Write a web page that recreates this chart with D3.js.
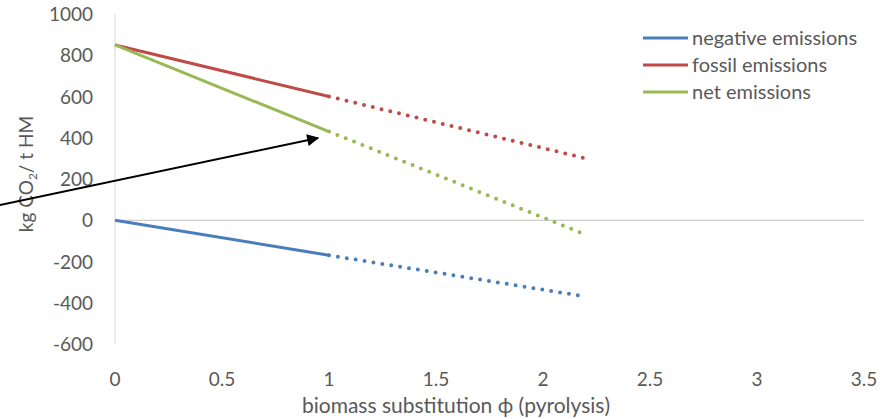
<!DOCTYPE html>
<html>
<head>
<meta charset="utf-8">
<script src="https://cdn.jsdelivr.net/npm/d3@7"></script>
<style>
  html, body { margin: 0; padding: 0; background: #fff; }
  svg { display: block; }
  .tick-lbl { font-family: Lato, "Open Sans", sans-serif; fill: #595959; }
  .legend-lbl { font-family: Lato, "Open Sans", sans-serif; fill: #595959; font-size: 20px; }
</style>
</head>
<body>
<svg id="chart" width="894" height="419"></svg>
<script>
// values (x = biomass substitution, y = kg CO2 / t HM)
var phiSolid  = [0, 1];
var phiDotted = [1, 2.2];
var negative  = [0, -170, -370];   // at phi = 0, 1, 2.2
var fossil    = [850, 600, 300];
var net       = [850, 430, -70];
var phiPoints = [0, 1, 2.2];

var seriesNames = ["negative emissions", "fossil emissions", "net emissions"];
var seriesColors = ["#4a7ebb", "#be4b48", "#98b954"];
var seriesValues = [negative, fossil, net];

var xTicks = [0, 0.5, 1, 1.5, 2, 2.5, 3, 3.5];
var yTicks = [1000, 800, 600, 400, 200, 0, -200, -400, -600];

var svg = d3.select("#chart");
var x = d3.scaleLinear().domain([0, 3.5]).range([115, 864]);
var y = d3.scaleLinear().domain([-600, 1000]).range([344, 14]);

// axis lines
svg.append("line").attr("x1", x(0)).attr("x2", x(0)).attr("y1", y(1000)).attr("y2", y(-600))
  .attr("stroke", "#d9d9d9").attr("stroke-width", 1);
svg.append("line").attr("x1", x(0)).attr("x2", x(3.5)).attr("y1", y(0)).attr("y2", y(0))
  .attr("stroke", "#bfbfbf").attr("stroke-width", 1);

// tick labels
svg.append("g").selectAll("text").data(yTicks).join("text")
  .attr("class", "tick-lbl").attr("font-size", 19)
  .attr("x", 93).attr("y", function (d) { return y(d) + 7; })
  .attr("text-anchor", "end").text(function (d) { return d; });

svg.append("g").selectAll("text").data(xTicks).join("text")
  .attr("class", "tick-lbl").attr("font-size", 19)
  .attr("x", function (d) { return x(d); }).attr("y", 386)
  .attr("text-anchor", "middle").text(function (d) { return d; });

// axis titles
svg.append("text").attr("class", "tick-lbl").attr("font-size", 21)
  .attr("x", 456).attr("y", 413).attr("text-anchor", "middle")
  .text("biomass substitution \u03D5 (pyrolysis)");

var yt = svg.append("text").attr("class", "tick-lbl").attr("font-size", 19)
  .attr("text-anchor", "middle")
  .attr("transform", "translate(33,174) rotate(-90)");
yt.append("tspan").text("kg CO");
yt.append("tspan").attr("font-size", 12).attr("dy", 4).text("2");
yt.append("tspan").attr("dy", -4).text("/ t HM");

// series
var line = d3.line().x(function (d) { return x(d[0]); }).y(function (d) { return y(d[1]); });
var gLines = svg.append("g");
seriesValues.forEach(function (vals, i) {
  var pts = phiPoints.map(function (p, j) { return [p, vals[j]]; });
  var solid = pts.filter(function (d) { return d[0] >= phiSolid[0] && d[0] <= phiSolid[1]; });
  var dotted = pts.filter(function (d) { return d[0] >= phiDotted[0] && d[0] <= phiDotted[1]; });
  gLines.append("path").attr("d", line(dotted)).attr("fill", "none")
    .attr("stroke", seriesColors[i]).attr("stroke-width", 4)
    .attr("stroke-linecap", "round").attr("stroke-dasharray", "0 9");
  gLines.append("path").attr("d", line(solid)).attr("fill", "none")
    .attr("stroke", seriesColors[i]).attr("stroke-width", 3);
});

// annotation arrow
var defs = svg.append("defs");
defs.append("marker").attr("id", "ah").attr("viewBox", "0 0 10 10")
  .attr("refX", 9).attr("refY", 5).attr("markerWidth", 7).attr("markerHeight", 6)
  .attr("markerUnits", "strokeWidth").attr("orient", "auto")
  .append("path").attr("d", "M0,0 L10,5 L0,10 z").attr("fill", "#000");
svg.append("line").attr("x1", 0).attr("y1", 205).attr("x2", 318).attr("y2", 138)
  .attr("stroke", "#000").attr("stroke-width", 2).attr("marker-end", "url(#ah)");

// legend
var lg = svg.append("g").selectAll("g").data(seriesNames).join("g")
  .attr("transform", function (d, i) { return "translate(643," + (38 + i * 27) + ")"; });
lg.append("line").attr("x1", 0).attr("x2", 45).attr("y1", 0).attr("y2", 0)
  .attr("stroke", function (d, i) { return seriesColors[i]; }).attr("stroke-width", 3);
lg.append("text").attr("class", "legend-lbl").attr("x", 49).attr("y", 7)
  .text(function (d) { return d; });
</script>
</body>
</html>
